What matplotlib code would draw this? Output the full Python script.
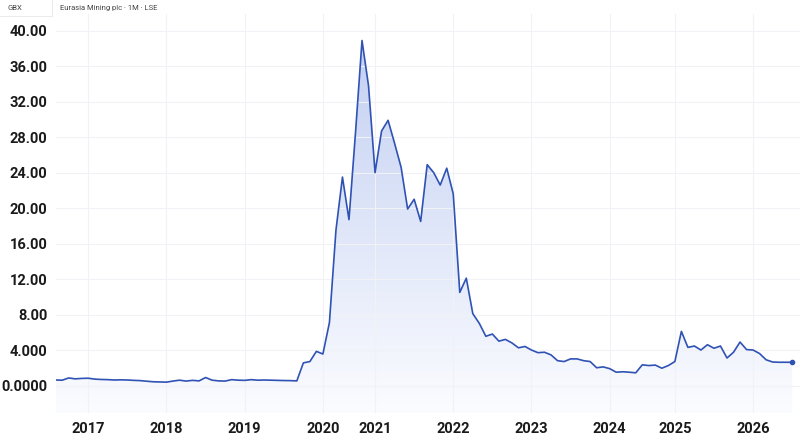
import matplotlib.pyplot as plt
import numpy as np
from matplotlib.colors import LinearSegmentedColormap

# Eurasia Mining plc monthly close (GBX), one value per bar on an index axis
prices = [
    0.62, 0.60, 0.85, 0.75, 0.80, 0.82, 0.72, 0.68, 0.66, 0.62,
    0.64, 0.62, 0.58, 0.55, 0.48, 0.42, 0.40, 0.38, 0.50, 0.60,
    0.50, 0.58, 0.52, 0.90, 0.60, 0.52, 0.50, 0.66, 0.60, 0.58,
    0.66, 0.60, 0.62, 0.60, 0.58, 0.56, 0.55, 0.52, 2.55, 2.70,
    3.85, 3.55, 7.10, 17.5, 23.5, 18.7, 28.5, 38.9, 33.8, 24.0,
    28.7, 29.9, 27.3, 24.6, 19.9, 21.0, 18.5, 24.9, 24.0, 22.6,
    24.5, 21.6, 10.5, 12.1, 8.10, 7.00, 5.55, 5.80, 5.00, 5.20,
    4.80, 4.25, 4.40, 4.00, 3.70, 3.75, 3.45, 2.80, 2.70, 3.00,
    3.00, 2.80, 2.70, 2.00, 2.10, 1.90, 1.50, 1.55, 1.50, 1.43,
    2.33, 2.25, 2.30, 1.95, 2.25, 2.70, 6.10, 4.30, 4.45, 4.00,
    4.60, 4.20, 4.45, 3.10, 3.75, 4.90, 4.05, 4.00, 3.60, 2.90,
    2.65, 2.62, 2.62, 2.62,
]
year_labels = ['2017', '2018', '2019', '2020', '2021', '2022', '2023', '2024', '2025', '2026']
year_index = [5, 17, 29, 41, 49, 61, 73, 85, 95, 107]
y_ticks = [0, 4, 8, 12, 16, 20, 24, 28, 32, 36, 40]
y_tick_labels = ['0.0000', '4.000', '8.00', '12.00', '16.00', '20.00',
                 '24.00', '28.00', '32.00', '36.00', '40.00']

plt.rcParams['font.family'] = ['Roboto', 'DejaVu Sans']

x = np.arange(len(prices))
y = np.array(prices)
line_color = '#2f52b4'

fig = plt.figure(figsize=(8, 4.41), dpi=100)
ax = fig.add_axes([0.0696, 0.0635, 0.9304, 0.905])
ymin, ymax = -3.1, 41.9

# gradient fill under the line
cmap = LinearSegmentedColormap.from_list('fade', ['#fbfcff', '#c3d0f2'])
grad = np.linspace(0, 1, 256).reshape(-1, 1)
img = ax.imshow(grad, aspect='auto', cmap=cmap, origin='lower',
                extent=(x[0], x[-1], ymin, y.max()), zorder=1)
poly = ax.fill_between(x, y, ymin, color='none', lw=0)
img.set_clip_path(poly.get_paths()[0], transform=ax.transData)

ax.plot(x, y, color=line_color, lw=1.2, zorder=3)
ax.plot(x[-1], y[-1], 'o', color=line_color, ms=3, zorder=4)

ax.set_xlim(0, 114.2)
ax.set_ylim(ymin, ymax)
ax.set_yticks(y_ticks)
ax.set_yticklabels(y_tick_labels)
ax.set_xticks(year_index)
ax.set_xticklabels(year_labels)
ax.tick_params(axis='both', length=0, labelsize=10.5, colors='#1a1a1a')
ax.tick_params(axis='y', pad=6)
ax.tick_params(axis='x', pad=6.5)
for lbl in ax.get_xticklabels() + ax.get_yticklabels():
    lbl.set_fontweight('bold')
ax.grid(True, color='#f1f2f5', lw=0.8, zorder=0)
for s in ax.spines.values():
    s.set_visible(False)

# header row
fig.text(8 / 800, 1 - 8 / 441, 'GBX', fontsize=5.5, color='#444444', va='center')
fig.text(60 / 800, 1 - 8 / 441, 'Eurasia Mining plc · 1M · LSE', fontsize=5.5,
         color='#444444', va='center')
fig.add_artist(plt.Line2D([0, 52 / 800, 52 / 800], [1 - 16 / 441, 1 - 16 / 441, 1],
                          color='#e6e6e6', lw=0.6))

fig.savefig('out.png', dpi=100)
